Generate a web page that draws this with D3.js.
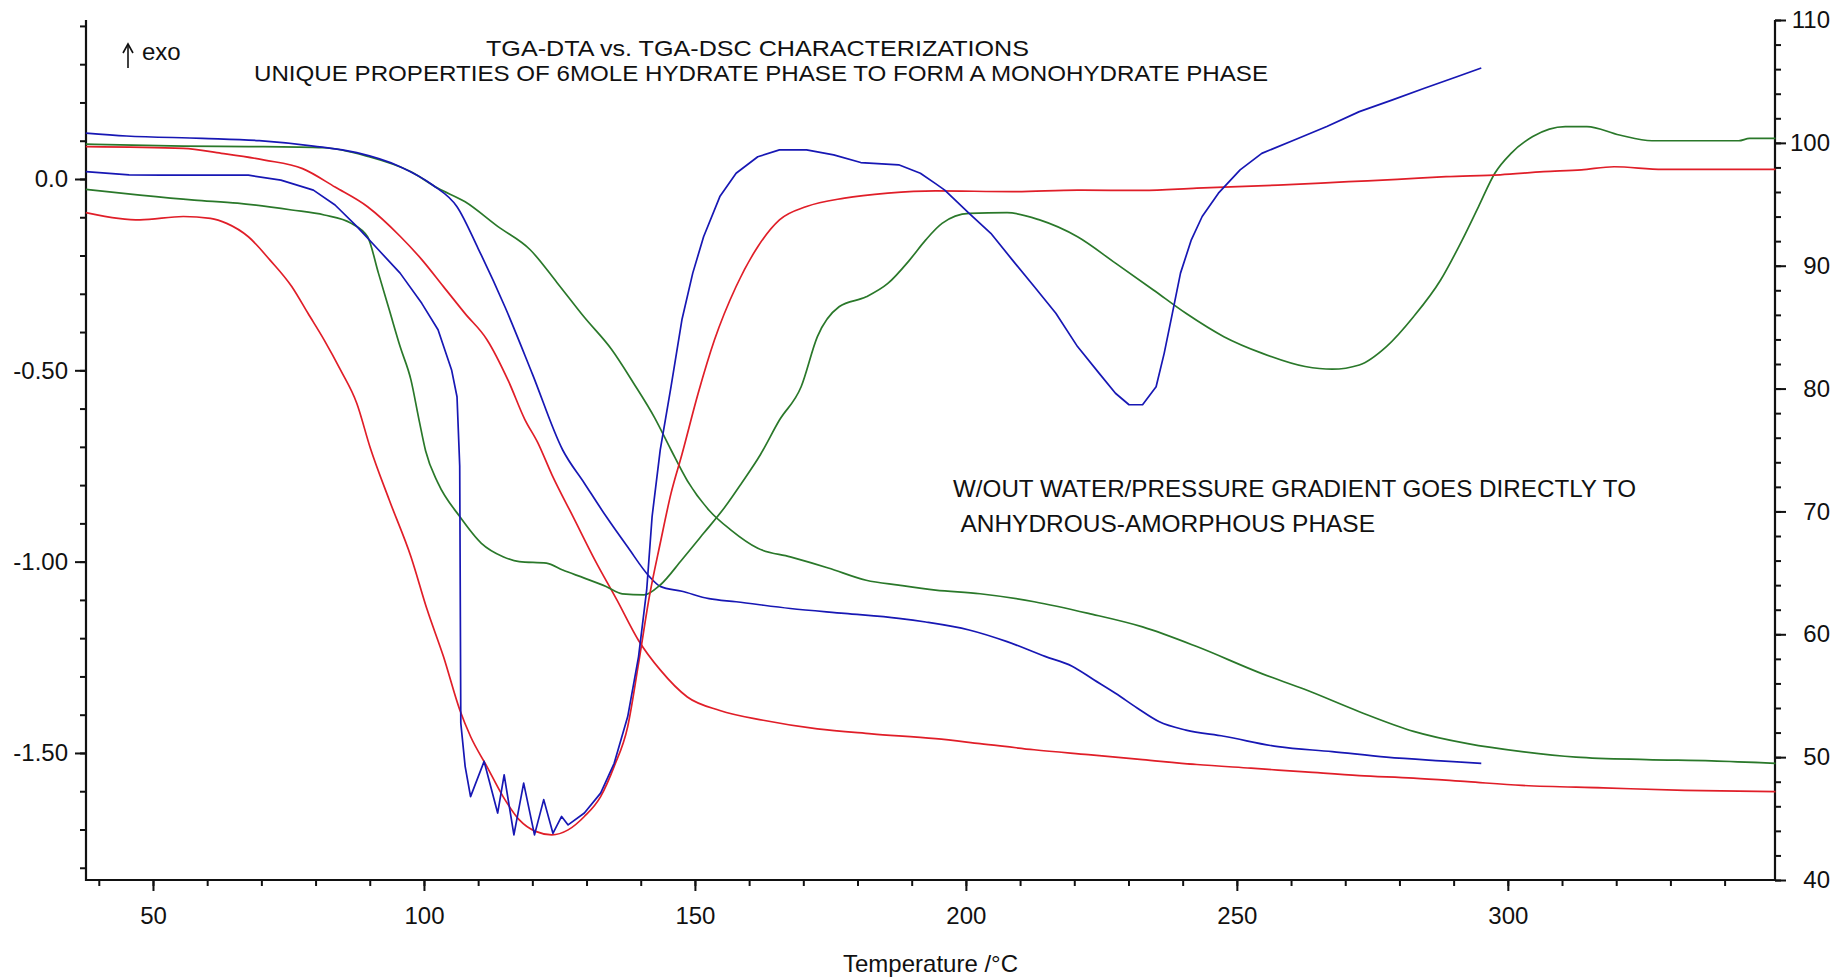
<!DOCTYPE html>
<html><head><meta charset="utf-8">
<script src="https://cdn.jsdelivr.net/npm/d3@7"></script>
<style>
body{margin:0;background:#fff;}
svg{display:block;}
text{font-family:"Liberation Sans",Arial,sans-serif;fill:#111;}
</style>
</head><body>
<svg id="chart" width="1839" height="980"></svg>
<script>
// ---------- axis domains & tick labels ----------
const tempDomain = [37.64, 349.3];
const dtaDomain = [-1.832, 0.4155];
const massDomain = [40, 110];
const xMajorTicks = [50, 100, 150, 200, 250, 300];
const xTickLabels = ["50", "100", "150", "200", "250", "300"];
const leftMajorTicks = [0, -0.5, -1, -1.5];
const leftTickLabels = ["0.0", "-0.50", "-1.00", "-1.50"];
const rightMajorTicks = [40, 50, 60, 70, 80, 90, 100, 110];
const rightTickLabels = ["40", "50", "60", "70", "80", "90", "100", "110"];
const titleLines = ["TGA-DTA vs. TGA-DSC CHARACTERIZATIONS",
  "UNIQUE PROPERTIES OF 6MOLE HYDRATE PHASE TO FORM A MONOHYDRATE PHASE"];
const noteLines = ["W/OUT WATER/PRESSURE GRADIENT GOES DIRECTLY TO",
  " ANHYDROUS-AMORPHOUS PHASE"];
const xAxisTitle = "Temperature /°C";

// ---------- series: [temperature °C, value] ----------
// TGA mass % (right axis)
const blueTGA = [[37.6,100.8],[45.1,100.56],[59.1,100.37],[69.6,100.18],[79.6,99.74],[87.6,99.2],[95.6,98.06],[101.6,96.57],[106.1,94.8],[110,91.4],[115,86.6],[120,81.2],[125.6,75],[129.6,72.3],[133.6,69.6],[137.6,67.1],[141.6,64.7],[143.6,63.9],[147.6,63.5],[152.6,62.9],[157.6,62.65],[167.6,62.1],[177.6,61.7],[187.6,61.3],[192.6,61.0],[200.6,60.35],[207.6,59.4],[214.6,58.2],[219.6,57.4],[223.6,56.3],[227.6,55.2],[231.6,54.0],[235.6,52.9],[240.6,52.2],[247.6,51.7],[257.6,50.85],[267.6,50.45],[277.6,50.0],[287.6,49.7],[295.1,49.5]];
const greenTGA = [[37.6,99.9],[55.6,99.74],[67.6,99.7],[81.6,99.6],[89.6,98.9],[97.6,97.65],[102.6,96.3],[107.6,95.2],[113.6,93.2],[119.6,91.3],[124.6,88.6],[129.6,85.8],[134.6,83.2],[138.6,80.5],[142.6,77.6],[145.6,75],[148.6,72.5],[152.6,70.1],[156.6,68.5],[161.6,67.0],[167.6,66.3],[174.6,65.4],[181.6,64.4],[187.6,64.0],[194.4,63.6],[202.6,63.3],[212.6,62.65],[222.6,61.7],[232.6,60.6],[242.6,59.0],[254.6,56.8],[262.6,55.5],[272.6,53.7],[282.6,52.1],[292.6,51.1],[302.6,50.45],[312.6,50.0],[325.6,49.8],[337.6,49.7],[349.4,49.5]];
const redTGA = [[37.6,99.7],[55.6,99.55],[62.6,99.15],[70.6,98.6],[77.6,97.9],[83.6,96.4],[89.6,94.8],[95.6,92.4],[99.6,90.5],[103.6,88.3],[107.6,86.1],[111.6,84],[115.6,80.6],[118.6,77.5],[121,75.6],[123.6,73],[127.6,69.5],[131.6,66],[135.6,62.8],[139.6,59.5],[143.6,57.1],[148.6,54.9],[154.6,53.8],[162.6,53.0],[172.6,52.3],[182.6,51.9],[194.4,51.5],[202.6,51.1],[212.6,50.6],[222.6,50.2],[232.6,49.8],[242.6,49.4],[252.6,49.1],[262.6,48.8],[272.6,48.5],[282.6,48.3],[292.6,48.0],[302.6,47.7],[317.6,47.5],[332.6,47.3],[349.4,47.2]];
// DTA / DSC signal (left axis)
const blueDTA = [[37.6,0.019],[45.6,0.011],[51.6,0.01],[67.6,0.01],[73.6,-0.003],[79.6,-0.029],[83.6,-0.068],[87.6,-0.124],[91.6,-0.185],[95.6,-0.246],[99.6,-0.325],[102.6,-0.394],[105.1,-0.499],[106.1,-0.569],[106.6,-0.75],[106.8,-1.422],[107.6,-1.535],[108.6,-1.614],[111.1,-1.522],[113.6,-1.657],[114.8,-1.557],[116.6,-1.714],[118.4,-1.579],[120.4,-1.714],[122.1,-1.622],[123.8,-1.71],[125.4,-1.666],[126.6,-1.688],[129.6,-1.657],[132.6,-1.605],[135.1,-1.527],[137.6,-1.405],[139.6,-1.248],[141.1,-1.074],[142.1,-0.882],[143.6,-0.708],[145.6,-0.542],[147.6,-0.368],[149.6,-0.246],[151.6,-0.151],[154.6,-0.046],[157.6,0.015],[161.6,0.058],[165.6,0.076],[170.6,0.076],[175.6,0.063],[180.6,0.043],[187.6,0.037],[191.6,0.015],[194.4,-0.012],[196.1,-0.029],[200.6,-0.09],[204.6,-0.142],[208.6,-0.212],[212.6,-0.281],[216.6,-0.351],[220.6,-0.438],[224.6,-0.508],[227.6,-0.56],[230.1,-0.59],[232.6,-0.59],[235.1,-0.543],[236.6,-0.455],[238.1,-0.351],[239.6,-0.246],[241.6,-0.159],[243.6,-0.098],[246.6,-0.037],[250.6,0.024],[254.6,0.067],[260.6,0.102],[266.6,0.137],[272.6,0.176],[278.6,0.206],[284.6,0.237],[290.6,0.267],[295.1,0.29]];
const redDTA = [[37.6,-0.088],[43.6,-0.103],[47.6,-0.107],[55.6,-0.098],[60.6,-0.103],[63.6,-0.116],[67.6,-0.151],[71.6,-0.212],[75.6,-0.281],[78.6,-0.351],[81.6,-0.421],[84.6,-0.499],[87.6,-0.586],[90.1,-0.703],[93.6,-0.839],[97.6,-0.987],[100.6,-1.126],[103.6,-1.248],[106.6,-1.387],[108.6,-1.457],[111.6,-1.535],[114.6,-1.614],[117.6,-1.675],[120.6,-1.705],[123.6,-1.714],[126.6,-1.701],[129.6,-1.666],[132.6,-1.614],[135.1,-1.535],[137.6,-1.431],[139.6,-1.266],[141.6,-1.091],[143.6,-0.952],[145.6,-0.821],[147.6,-0.72],[150.6,-0.56],[153.6,-0.421],[157.6,-0.281],[161.6,-0.177],[165.6,-0.107],[170.6,-0.072],[177.6,-0.05],[185.6,-0.037],[194.4,-0.031],[208.6,-0.033],[220.6,-0.029],[232.6,-0.03],[242.6,-0.024],[257.6,-0.016],[270.6,-0.007],[279.6,-0.001],[288.6,0.006],[298.6,0.011],[306.6,0.019],[313.6,0.024],[319.6,0.032],[328.6,0.025],[349.4,0.025]];
const greenDTA = [[37.6,-0.027],[47.6,-0.042],[57.6,-0.055],[65.6,-0.063],[75.6,-0.081],[81.6,-0.094],[86.6,-0.116],[89.6,-0.151],[91.6,-0.246],[93.6,-0.342],[95.6,-0.438],[97.6,-0.525],[99.1,-0.63],[100.3,-0.71],[102.6,-0.795],[106.6,-0.882],[110.6,-0.952],[114.6,-0.987],[117.6,-1.0],[122.6,-1.004],[125.6,-1.022],[129.6,-1.043],[133.6,-1.065],[136.6,-1.084],[140.6,-1.087],[143.6,-1.061],[147.6,-0.995],[151.6,-0.926],[155.6,-0.856],[158.6,-0.795],[162.1,-0.72],[165.6,-0.63],[169.6,-0.543],[172.6,-0.412],[176.6,-0.334],[181.6,-0.308],[185.6,-0.273],[189.6,-0.212],[192.6,-0.159],[195.6,-0.116],[200.6,-0.09],[207.6,-0.088],[213.6,-0.107],[220.6,-0.151],[227.6,-0.22],[234.6,-0.29],[240.6,-0.351],[247.6,-0.412],[254.6,-0.455],[262.6,-0.49],[267.6,-0.497],[272.6,-0.486],[277.6,-0.438],[282.6,-0.36],[287.6,-0.264],[291.6,-0.159],[294.6,-0.072],[297.6,0.015],[300.6,0.067],[304.6,0.111],[310.6,0.137],[314.6,0.137],[320.6,0.115],[326.6,0.1],[342.6,0.1],[344.6,0.106],[349.4,0.106]];

const colors = {blue: "#1717b4", red: "#e01e28", green: "#2a782a"};

// ---------- layout ----------
const svg = d3.select("#chart");
const plot = {left: 86, right: 1775, top: 20, bottom: 880};
const x = d3.scaleLinear().domain(tempDomain).range([plot.left, plot.right]);
const yL = d3.scaleLinear().domain(dtaDomain).range([plot.bottom, plot.top]);
const yR = d3.scaleLinear().domain(massDomain).range([plot.bottom, plot.top]);

const fontFam = '"Liberation Sans", Arial, sans-serif';
function styleAxis(g) {
  g.attr("font-family", fontFam).attr("font-size", 24);
  g.select(".domain").remove();
  g.selectAll(".tick line").attr("stroke", "#111").attr("stroke-width", 2);
  g.selectAll(".tick text").attr("fill", "#111");
}

// minor ticks
const xMinor = d3.range(40, 350, 10);
const lMinor = d3.range(-18, 5).map(v => v / 10);
const rMinor = d3.range(40, 111, 2);
svg.append("g").attr("transform", `translate(0,${plot.bottom})`)
  .call(d3.axisBottom(x).tickValues(xMinor).tickSize(6).tickSizeOuter(0).tickFormat(""))
  .call(styleAxis);
svg.append("g").attr("transform", `translate(${plot.left},0)`)
  .call(d3.axisLeft(yL).tickValues(lMinor).tickSize(6).tickSizeOuter(0).tickFormat(""))
  .call(styleAxis);
svg.append("g").attr("transform", `translate(${plot.right},0)`)
  .call(d3.axisRight(yR).tickValues(rMinor).tickSize(6).tickSizeOuter(0).tickFormat(""))
  .call(styleAxis);

// major ticks + labels
svg.append("g").attr("transform", `translate(0,${plot.bottom})`)
  .call(d3.axisBottom(x).tickValues(xMajorTicks).tickSize(11).tickPadding(16).tickSizeOuter(0)
    .tickFormat((d, i) => xTickLabels[i]))
  .call(styleAxis);
svg.append("g").attr("transform", `translate(${plot.left},0)`)
  .call(d3.axisLeft(yL).tickValues(leftMajorTicks).tickSize(11).tickPadding(7).tickSizeOuter(0)
    .tickFormat((d, i) => leftTickLabels[i]))
  .call(styleAxis);
const rAx = svg.append("g").attr("transform", `translate(${plot.right},0)`)
  .call(d3.axisRight(yR).tickValues(rightMajorTicks).tickSize(11).tickPadding(7).tickSizeOuter(0)
    .tickFormat((d, i) => rightTickLabels[i]))
  .call(styleAxis);
rAx.selectAll(".tick text").attr("text-anchor", "end").attr("x", 55);

// axis lines
const axisLines = svg.append("g").attr("stroke", "#111").attr("stroke-width", 2.2);
axisLines.append("line").attr("x1", plot.left).attr("x2", plot.left).attr("y1", plot.top).attr("y2", plot.bottom + 1);
axisLines.append("line").attr("x1", plot.right).attr("x2", plot.right).attr("y1", plot.top).attr("y2", plot.bottom + 1);
axisLines.append("line").attr("x1", plot.left - 1).attr("x2", plot.right + 1).attr("y1", plot.bottom).attr("y2", plot.bottom);

// ---------- curves ----------
function makeLine(axis, curve) {
  const y = axis === "L" ? yL : yR;
  return d3.line().curve(curve).x(d => x(d[0])).y(d => y(d[1]));
}
const series = [
  {data: greenTGA, axis: "R", color: colors.green, curve: d3.curveMonotoneX},
  {data: redTGA, axis: "R", color: colors.red, curve: d3.curveMonotoneX},
  {data: blueTGA, axis: "R", color: colors.blue, curve: d3.curveMonotoneX},
  {data: greenDTA, axis: "L", color: colors.green, curve: d3.curveMonotoneX},
  {data: redDTA, axis: "L", color: colors.red, curve: d3.curveMonotoneX},
  {data: blueDTA, axis: "L", color: colors.blue, curve: d3.curveLinear}
];
svg.append("g").selectAll("path").data(series).join("path")
  .attr("d", s => makeLine(s.axis, s.curve)(s.data))
  .attr("fill", "none")
  .attr("stroke", s => s.color)
  .attr("stroke-width", 1.7)
  .attr("stroke-linejoin", "round");

// ---------- texts ----------
function fitText(str, x0, baseline, width, size) {
  svg.append("text").attr("x", x0).attr("y", baseline)
    .attr("font-size", size).attr("font-family", fontFam)
    .attr("textLength", width).attr("lengthAdjust", "spacingAndGlyphs")
    .attr("xml:space", "preserve")
    .text(str);
}
fitText(titleLines[0], 486, 56, 543, 22);
fitText(titleLines[1], 254, 81, 1014, 22);
fitText(noteLines[0], 953, 497, 683, 24);
fitText(noteLines[1], 955, 532, 420, 24);

svg.append("text").attr("x", (plot.left + plot.right) / 2).attr("y", 972)
  .attr("text-anchor", "middle").attr("font-size", 24).attr("font-family", fontFam)
  .text(xAxisTitle);

// exo marker
svg.append("line").attr("x1", 128).attr("x2", 128).attr("y1", 68).attr("y2", 46)
  .attr("stroke", "#111").attr("stroke-width", 1.6);
svg.append("path").attr("d", "M123,53 L128,44 L133,53").attr("fill", "none")
  .attr("stroke", "#111").attr("stroke-width", 1.6);
svg.append("text").attr("x", 142).attr("y", 60).attr("font-size", 24).attr("font-family", fontFam)
  .text("exo");
</script>
</body></html>
